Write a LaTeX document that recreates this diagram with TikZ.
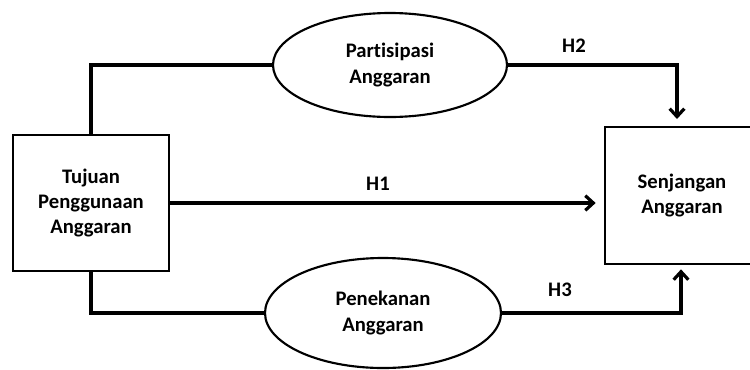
\documentclass[tikz,border=0pt]{standalone}
\usepackage{fontspec}
\setmainfont{Carlito}[Ligatures=NoCommon]
\usetikzlibrary{arrows.meta,shapes.geometric}
\begin{document}
\begin{tikzpicture}[x=0.75pt,y=-0.75pt,
  every node/.style={font=\bfseries\fontsize{15.5}{19}\selectfont, align=center},
  varbox/.style={draw, line width=2pt, rectangle, inner sep=0pt},
  varoval/.style={draw, line width=1.6pt, ellipse, inner sep=0pt},
  link/.style={line width=2.4pt},
  arr/.style={link, -{Straight Barb[length=6pt, width=11pt]}},
  hyp/.style={inner sep=0pt}]
\useasboundingbox (0,0) rectangle (750,369);
\clip (0,0) rectangle (750,369);

% variables
\node[varbox, minimum width=117pt, minimum height=102pt] (tujuan) at (91,203)
  {Tujuan\\Penggunaan\\Anggaran};
\node[varbox, minimum width=115.5pt, minimum height=102.75pt] (senjangan) at (682,195.5)
  {Senjangan\\Anggaran};
\node[varoval, minimum width=175.5pt, minimum height=78pt] (partisipasi) at (390,65)
  {Partisipasi\\Anggaran};
\node[varoval, minimum width=177pt, minimum height=82.5pt] (penekanan) at (383,313)
  {Penekanan\\Anggaran};

% connectors
\draw[link] (tujuan.north) |- (partisipasi.west);
\draw[link] (tujuan.south) |- (penekanan.west);
\draw[arr, shorten >=5pt] (partisipasi.east) -| ([xshift=-3.75pt]senjangan.north);
\draw[arr, shorten >=3pt] (penekanan.east) -| ([xshift=-0.75pt]senjangan.south);
\draw[arr, shorten >=6pt] (tujuan.east) -- (tujuan.east -| senjangan.west);

% hypothesis labels
\node[hyp] (h1) at (378,184) {H1};
\node[hyp] (h2) at (574,46) {H2};
\node[hyp] (h3) at (560,290) {H3};
\end{tikzpicture}
\end{document}
